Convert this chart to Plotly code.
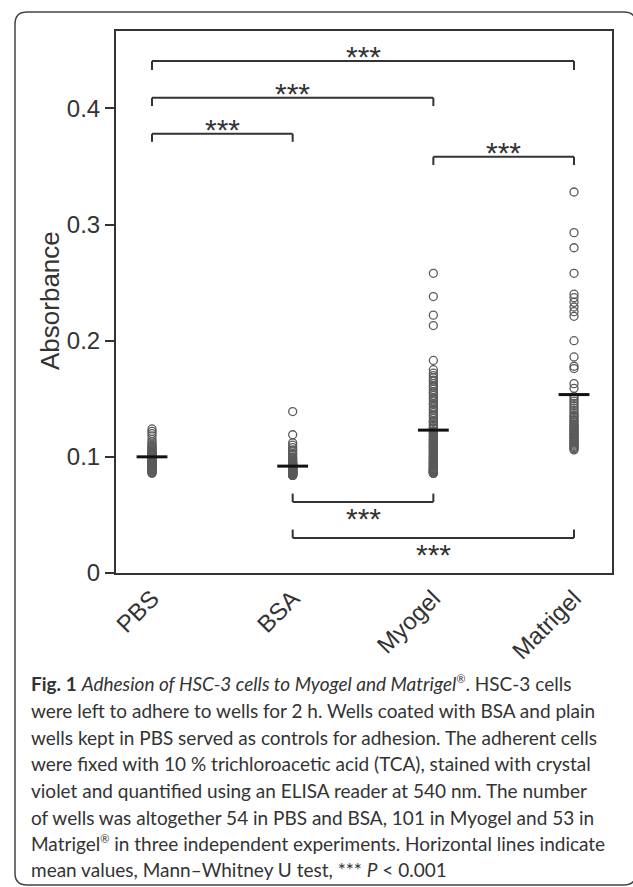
import plotly.graph_objects as go

# ---------------- data ----------------
categories = ["PBS", "BSA", "Myogel", "Matrigel"]

pbs = [0.124, 0.122, 0.120, 0.118, 0.115, 0.113, 0.111, 0.110, 0.109, 0.108,
       0.107, 0.106, 0.105, 0.105, 0.104, 0.103, 0.103, 0.102, 0.102, 0.101,
       0.101, 0.100, 0.100, 0.100, 0.099, 0.099, 0.098, 0.098, 0.097, 0.097,
       0.096, 0.096, 0.095, 0.095, 0.094, 0.094, 0.093, 0.093, 0.092, 0.092,
       0.091, 0.091, 0.090, 0.090, 0.089, 0.089, 0.088, 0.088, 0.087, 0.087,
       0.086, 0.086, 0.104, 0.101]
bsa = [0.139, 0.119, 0.112, 0.110, 0.108, 0.106, 0.105, 0.103, 0.102, 0.100,
       0.099, 0.098, 0.097, 0.096, 0.095, 0.094, 0.094, 0.093, 0.093, 0.092,
       0.092, 0.091, 0.091, 0.090, 0.090, 0.090, 0.089, 0.089, 0.089, 0.088,
       0.088, 0.088, 0.088, 0.087, 0.087, 0.087, 0.087, 0.086, 0.086, 0.086,
       0.086, 0.085, 0.085, 0.085, 0.085, 0.084, 0.084, 0.084, 0.091, 0.089,
       0.093, 0.095, 0.087, 0.086]
myogel = [0.258, 0.238, 0.222, 0.213, 0.183, 0.175, 0.172, 0.170, 0.168, 0.166,
          0.165, 0.163, 0.161, 0.160, 0.158, 0.156, 0.155, 0.153, 0.151, 0.150,
          0.148, 0.146, 0.145, 0.143, 0.141, 0.140, 0.138, 0.136, 0.135, 0.133,
          0.131, 0.130, 0.128, 0.127, 0.125, 0.124, 0.122, 0.121, 0.120, 0.118,
          0.117, 0.116, 0.115, 0.114, 0.113, 0.112, 0.111, 0.110, 0.109, 0.108,
          0.107, 0.106, 0.105, 0.104, 0.103, 0.102, 0.101, 0.100, 0.100, 0.099,
          0.098, 0.097, 0.097, 0.096, 0.095, 0.095, 0.094, 0.093, 0.093, 0.092,
          0.092, 0.091, 0.091, 0.090, 0.090, 0.089, 0.089, 0.089, 0.088, 0.088,
          0.088, 0.087, 0.087, 0.087, 0.086, 0.086, 0.086, 0.086, 0.105, 0.110,
          0.115, 0.120, 0.125, 0.130, 0.099, 0.094, 0.096, 0.102, 0.108, 0.112,
          0.118]
matrigel = [0.328, 0.293, 0.280, 0.258, 0.240, 0.237, 0.233, 0.229, 0.225, 0.221,
            0.200, 0.186, 0.178, 0.176, 0.163, 0.159, 0.152, 0.150, 0.148, 0.146,
            0.144, 0.142, 0.140, 0.138, 0.136, 0.134, 0.132, 0.130, 0.128, 0.127,
            0.126, 0.125, 0.124, 0.123, 0.122, 0.121, 0.120, 0.119, 0.118, 0.117,
            0.116, 0.115, 0.114, 0.113, 0.112, 0.111, 0.110, 0.109, 0.108, 0.107,
            0.106, 0.131, 0.135]
series = [pbs, bsa, myogel, matrigel]

means = [0.100, 0.092, 0.123, 0.1536]

y_tickvals = [0, 0.1, 0.2, 0.3, 0.4]
y_ticktext = ["0", "0.1", "0.2", "0.3", "0.4"]

# significance brackets: (from category, to category, bar level, tick end level, star level)
brackets = [
    (0, 3, 0.4407, 0.4330, 0.4445),
    (0, 2, 0.4091, 0.4020, 0.4130),
    (0, 1, 0.3781, 0.3712, 0.3820),
    (2, 3, 0.3583, 0.3512, 0.3622),
    (1, 2, 0.0612, 0.0684, 0.0470),
    (1, 3, 0.0302, 0.0374, 0.0160),
]
stars_text = "***"

REG = "<sup><span style='font-size:11px'>®</span></sup>"
caption_lines = [
    "<b>Fig. 1</b> <i>Adhesion of HSC-3 cells to Myogel and Matrigel" + REG + "</i>. HSC-3 cells",
    "were left to adhere to wells for 2 h. Wells coated with BSA and plain",
    "wells kept in PBS served as controls for adhesion. The adherent cells",
    "were fixed with 10 % trichloroacetic acid (TCA), stained with crystal",
    "violet and quantified using an ELISA reader at 540 nm. The number",
    "of wells was altogether 54 in PBS and BSA, 101 in Myogel and 53 in",
    "Matrigel" + REG + " in three independent experiments. Horizontal lines indicate",
    "mean values, Mann\u2013Whitney U test, *** <i>P</i> &lt; 0.001",
]

# ---------------- layout geometry (pixels) ----------------
W, H = 633, 887
L, R, T, B = 116, 21, 31, 314
PW, PH = W - L - R, H - T - B


def px(xp):
    return (xp - L) / PW


def py(yp):
    return (H - B - yp) / PH


fig = go.Figure()

for i, vals in enumerate(series):
    fig.add_trace(go.Scatter(
        x=[i] * len(vals), y=vals, mode="markers",
        marker=dict(symbol="circle", size=8, color="rgba(0,0,0,0)",
                    line=dict(color="#5a5a5a", width=1.3)),
        showlegend=False, hoverinfo="y"))

fig.add_trace(go.Scatter(
    x=list(range(len(categories))), y=means, mode="markers",
    marker=dict(symbol="line-ew", size=22, line=dict(color="#111", width=3)),
    showlegend=False))

# brackets
for a, b, lvl, tip, slv in brackets:
    for x0, y0, x1, y1 in [(a, lvl, b, lvl), (a, lvl, a, tip), (b, lvl, b, tip)]:
        fig.add_shape(type="line", xref="x", yref="y", x0=x0, y0=y0, x1=x1, y1=y1,
                      line=dict(color="#333", width=2))
    fig.add_annotation(x=(a + b) / 2, y=slv, xref="x", yref="y", text=stars_text,
                       showarrow=False, yanchor="middle", xanchor="center",
                       font=dict(family="Liberation Sans", size=30, color="#333"))

# outer rounded frame
x0p, y0p, x1p, y1p, r = 15, 12, 636, 885, 12
path = (f"M {px(x0p + r)},{py(y0p)} L {px(x1p - r)},{py(y0p)} "
        f"Q {px(x1p)},{py(y0p)} {px(x1p)},{py(y0p + r)} "
        f"L {px(x1p)},{py(y1p - r)} Q {px(x1p)},{py(y1p)} {px(x1p - r)},{py(y1p)} "
        f"L {px(x0p + r)},{py(y1p)} Q {px(x0p)},{py(y1p)} {px(x0p)},{py(y1p - r)} "
        f"L {px(x0p)},{py(y0p + r)} Q {px(x0p)},{py(y0p)} {px(x0p + r)},{py(y0p)} Z")
fig.add_shape(type="path", xref="paper", yref="paper", path=path,
              line=dict(color="#444", width=1.5), layer="below")

# caption
line_y = [683, 710, 737, 763, 790, 817, 843, 869]
for txt, yy in zip(caption_lines, line_y):
    fig.add_annotation(x=px(29), y=py(yy), xref="paper", yref="paper", text=txt,
                       showarrow=False, xanchor="left", yanchor="middle",
                       font=dict(family="Lato", size=19, color="#333"))

# y-axis title
fig.add_annotation(x=px(50), y=py(301), xref="paper", yref="paper", text="Absorbance",
                   textangle=-90, showarrow=False, xanchor="center", yanchor="middle",
                   font=dict(family="Liberation Sans", size=26, color="#333"))

fig.update_layout(
    width=W, height=H,
    margin=dict(l=L, r=R, t=T, b=B, pad=0),
    paper_bgcolor="white", plot_bgcolor="white",
    font=dict(family="Liberation Sans", color="#333"),
    xaxis=dict(range=[-0.256, 3.27], tickvals=list(range(len(categories))),
               ticktext=categories, tickangle=-45, ticks="", showgrid=False,
               zeroline=False, showline=True, linecolor="#333", linewidth=2,
               mirror=True, tickfont=dict(size=24, color="#333")),
    yaxis=dict(range=[0, 0.4666], tickvals=y_tickvals, ticktext=y_ticktext,
               ticks="outside", ticklen=9, tickwidth=2, tickcolor="#333",
               showgrid=False, zeroline=False, showline=True, linecolor="#333",
               linewidth=2, mirror=True, tickfont=dict(size=24, color="#333")),
)

fig.write_html("out.html", config={"displayModeBar": False},
               post_script="document.body.style.margin='0';document.body.style.overflow='hidden';")
